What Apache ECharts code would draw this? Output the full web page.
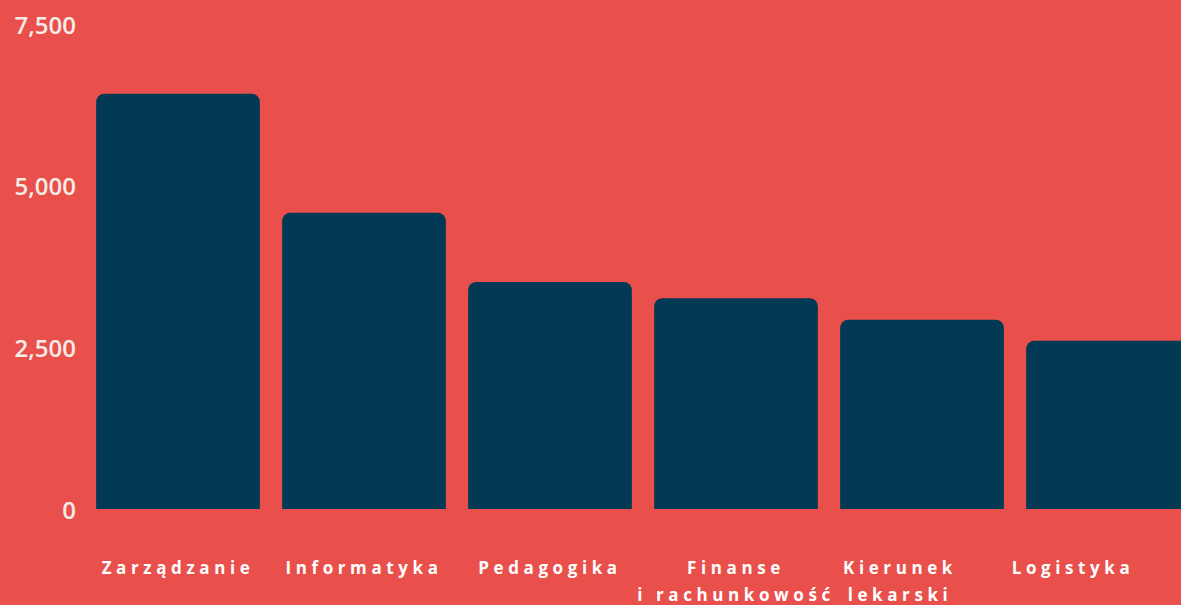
<!DOCTYPE html>
<html>
<head>
<meta charset="utf-8">
<script src="https://cdn.jsdelivr.net/npm/echarts@6/dist/echarts.min.js"></script>
<style>
  html, body { margin: 0; padding: 0; background: #e9504c; }
  #chart { width: 1181px; height: 605px; }
</style>
</head>
<body>
<div id="chart"></div>
<script>
// kierunki studiow i liczba studentow
var categories = ["Zarządzanie", "Informatyka", "Pedagogika", "Finanse\ni rachunkowość", "Kierunek\nlekarski", "Logistyka"];
var students = [6420, 4580, 3510, 3260, 2925, 2600];
var yTicks = [0, 2500, 5000, 7500];

// two labels on the right sit a bit left of their bars
var labelShift = [0, 0, 0, 0, 44, 70];

var chart = echarts.init(document.getElementById("chart"), null, { renderer: "svg" });

var xData = categories.map(function(name, i) {
  return {
    value: name,
    textStyle: { padding: [0, labelShift[i], 0, 0] }
  };
});

chart.setOption({
  backgroundColor: "#e9504c",
  animation: false,
  grid: {
    left: 85,
    top: 24,
    bottom: 96,
    width: 1116,
    containLabel: false,
    outerBoundsMode: "none"
  },
  xAxis: {
    type: "category",
    data: xData,
    axisLine: { show: false },
    axisTick: { show: false },
    axisLabel: {
      interval: 0,
      margin: 45,
      color: "#ffffff",
      fontFamily: "Open Sans",
      fontWeight: "bold",
      fontSize: 17,
      lineHeight: 27,
      verticalAlign: "top"
    }
  },
  yAxis: {
    type: "value",
    min: yTicks[0],
    max: yTicks[yTicks.length - 1],
    interval: yTicks[1] - yTicks[0],
    splitLine: { show: false },
    axisLine: { show: false },
    axisTick: { show: false },
    axisLabel: {
      margin: 9,
      color: "#f4ede6",
      fontFamily: "Open Sans",
      fontWeight: 600,
      fontSize: 24
    }
  },
  series: [
    {
      type: "bar",
      data: students,
      barWidth: "88%",
      itemStyle: {
        color: "#023955",
        borderRadius: [8, 8, 0, 0]
      }
    }
  ]
});

// letter spacing for the category labels (not available in echarts text style)
var labelLines = {};
categories.forEach(function(c) {
  c.split("\n").forEach(function(l) { labelLines[l] = true; });
});
function spaceLabels() {
  var texts = document.querySelectorAll("#chart text");
  texts.forEach(function(t) {
    if (labelLines[t.textContent]) {
      t.setAttribute("letter-spacing", "4.6");
      t.style.letterSpacing = "4.6px";
    }
  });
}
spaceLabels();
chart.on("finished", spaceLabels);
</script>
</body>
</html>
